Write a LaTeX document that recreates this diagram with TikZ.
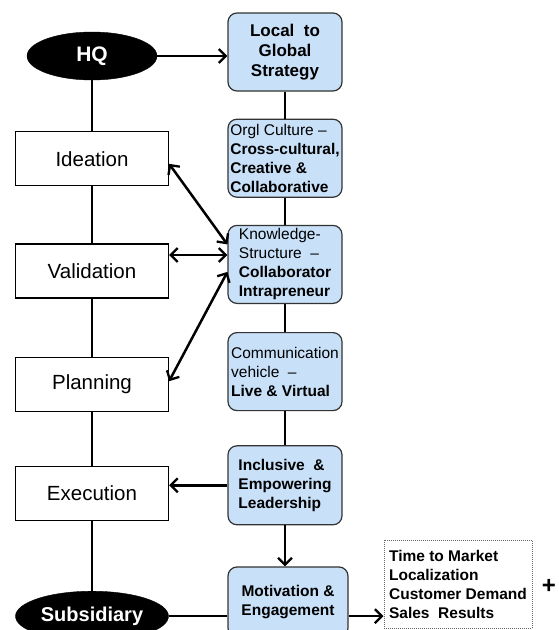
\documentclass[tikz,border=0pt]{standalone}
\usepackage{fontspec}
\setmainfont{Liberation Sans}
\usetikzlibrary{shapes.geometric, arrows.meta, positioning}

\definecolor{paleblue}{RGB}{200,224,248}

\begin{document}
\begin{tikzpicture}[
      x=1pt, y=-1pt,
      node distance=27pt and 60pt,
      terminal/.style={ellipse, fill=black, draw=black, inner sep=0pt, text=white, font=\fontsize{21}{24}\selectfont\bfseries},
      stage/.style={rectangle, draw=black, line width=1.2pt, fill=white, minimum width=153pt, minimum height=54pt, align=center, font=\fontsize{20.5}{24}\selectfont},
      factor/.style={rectangle, rounded corners=9pt, draw=black!80, line width=1.2pt, fill=paleblue, minimum width=114pt, minimum height=78pt, inner sep=1.5pt, align=left, font=\fontsize{15.5}{19}\selectfont\bfseries},
      outcome/.style={rectangle, draw=black!60, densely dotted, line width=1pt, fill=white, minimum width=148pt, minimum height=88pt, inner sep=2pt, align=left, font=\fontsize{15.5}{19}\selectfont\bfseries},
      link/.style={line width=2.5pt, draw=black},
      arrow/.style={link, -{Straight Barb[length=7pt, width=14pt, line width=2.3pt]}},
      dblarrow/.style={link, {Straight Barb[length=7pt, width=14pt, line width=2.3pt]}-{Straight Barb[length=7pt, width=14pt, line width=2.3pt]}}
  ]
  \useasboundingbox (0,0) rectangle (558,630);

  % left column: stages
  \node[terminal, minimum width=130pt, minimum height=48pt] (hq) at (92,56) {HQ};
  \node[stage] (idea) [below=51pt of hq] {Ideation};
  \node[stage] (valid) [below=57pt of idea] {Validation};
  \node[stage] (plan) [below=58pt of valid] {Planning};
  \node[stage] (exec) [below=54pt of plan] {Execution};
  \node[terminal, minimum width=153pt, minimum height=50pt, font=\fontsize{20}{24}\selectfont\bfseries] (sub) [below=70pt of exec] {Subsidiary};

  % right column: enablers
  \node[factor, align=center, font=\fontsize{17}{20}\selectfont\bfseries] (local) at (285,52) {Local\ \ to\\Global\\Strategy};
  \node[factor] (orgl) [below=of local] {{\mdseries Orgl Culture –}\\Cross-cultural,\\Creative \&\\Collaborative};
  \node[factor] (know) [below=of orgl] {{\mdseries Knowledge-}\\{\mdseries Structure\ \ –}\\Collaborator\\Intrapreneur};
  \node[factor] (comm) [below=28pt of know] {{\mdseries Communication}\\{\mdseries vehicle\ \ –}\\Live \& Virtual};
  \node[factor, minimum height=79pt] (incl) [below=34pt of comm] {Inclusive\ \ \&\\Empowering\\Leadership};
  \node[factor, align=center, minimum width=120pt, minimum height=70pt] (motiv) [below=41pt of incl, xshift=3pt] {Motivation \&\\Engagement};

  \node[outcome] (result) at (458,584) {Time to Market\\Localization\\Customer Demand\\Sales\ \ Results};
  \node[font=\fontsize{24}{24}\selectfont\bfseries, inner sep=0pt] (plus) at (549,586) {+};

  % connectors
  \draw[link] (hq) -- (idea);
  \draw[link] (idea) -- (valid);
  \draw[link] (valid) -- (plan);
  \draw[link] (plan) -- (exec);
  \draw[link] (exec) -- (sub);

  \draw[link] (local) -- (orgl);
  \draw[link] (orgl) -- (know);
  \draw[link] (know) -- (comm);
  \draw[link] (comm) -- (incl);

  \draw[arrow] (hq.east) -- (hq -| local.west);
  \draw[arrow] (incl.west) -- (incl -| exec.east);
  \draw[arrow] (incl) -- (incl |- motiv.north);
  \draw[link] (sub.east) -- (sub -| motiv.west);
  \draw[arrow] (sub -| motiv.east) -- (sub -| result.west);

  \draw[dblarrow] ([yshift=-5pt]idea.east) -- ([yshift=20pt]know.west);
  \draw[dblarrow] ([yshift=16pt]valid.east) -- ([yshift=16pt]valid.east -| know.west);
  \draw[dblarrow] ([yshift=3pt]plan.east) -- ([yshift=-7.5pt]know.west);

  \end{tikzpicture}
\end{document}
